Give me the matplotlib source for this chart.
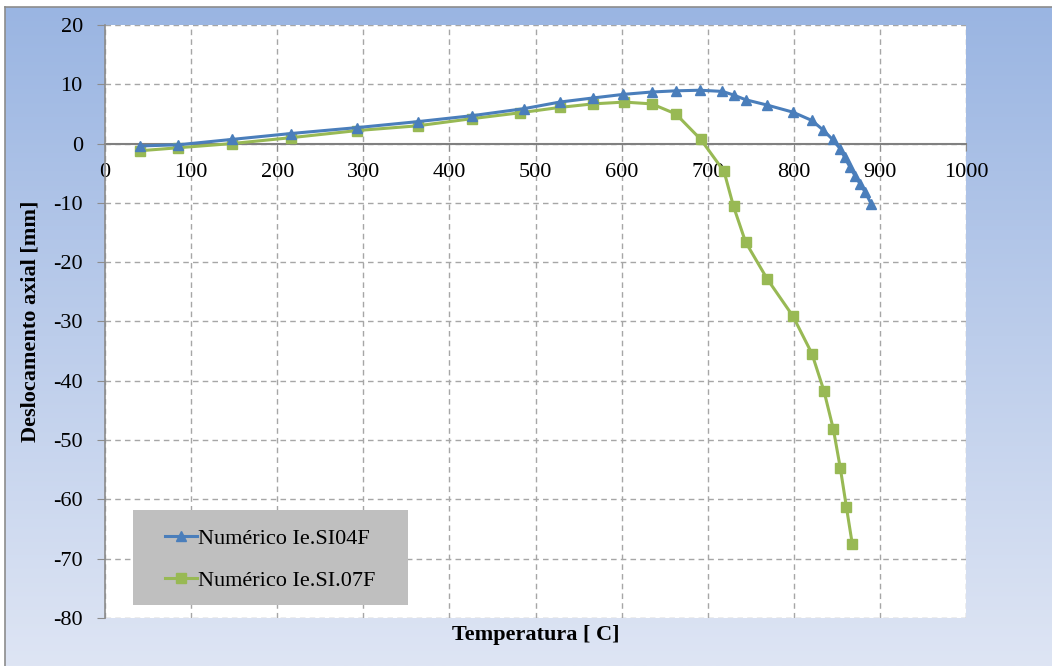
import numpy as np
import matplotlib.pyplot as plt
from matplotlib.patches import Rectangle

plt.rcParams["axes.unicode_minus"] = False

# Temperature (C) and axial displacement (mm) for each numerical model
temp_si04 = [41, 85, 147, 216, 293, 363, 426, 487, 528, 567, 602, 635, 663, 691,
             717, 730, 744, 769, 799, 821, 834, 845, 854, 859, 865, 871, 877, 883, 890]
disp_si04 = [-0.4, -0.2, 0.7, 1.7, 2.7, 3.7, 4.7, 5.9, 7.0, 7.7, 8.3, 8.7, 8.9, 9.0,
             8.8, 8.2, 7.4, 6.5, 5.3, 3.9, 2.3, 0.7, -0.9, -2.3, -3.9, -5.4, -6.8, -8.2, -10.2]

temp_si07 = [41, 85, 147, 216, 293, 363, 426, 482, 528, 567, 603, 635, 663, 692,
             719, 730, 744, 769, 799, 821, 835, 846, 854, 861, 868]
disp_si07 = [-1.2, -0.7, 0.0, 1.0, 2.2, 3.0, 4.2, 5.2, 6.1, 6.7, 7.0, 6.7, 5.0, 0.7,
             -4.7, -10.6, -16.6, -22.8, -29.1, -35.4, -41.7, -48.2, -54.7, -61.2, -67.6]

labels = ["Numérico Ie.SI04F", "Numérico Ie.SI.07F"]
x_ticks = list(range(0, 1001, 100))
y_ticks = list(range(-80, 21, 10))

blue = "#4A7EBB"
green = "#98B954"
serif = "Liberation Serif"
fs = 16

W, H = 1052, 666
fig = plt.figure(figsize=(W / 100, H / 100), dpi=100)
fig.patch.set_facecolor("white")

# Blue gradient chart background with a thin grey frame
bg = fig.add_axes([0.005, 0.0, 0.995, 0.99])
grad = np.linspace(0, 1, 256).reshape(-1, 1)
top_c = np.array([0x9A, 0xB5, 0xE2]) / 255
bot_c = np.array([0xDE, 0xE5, 0xF4]) / 255
img = top_c + (bot_c - top_c) * grad[..., None]
bg.imshow(img, aspect="auto", extent=[0, 1, 0, 1], origin="upper")
bg.set_xlim(0, 1)
bg.set_ylim(0, 1)
bg.set_xticks([])
bg.set_yticks([])
for s in bg.spines.values():
    s.set_color("#8C8C8C")
    s.set_linewidth(1.2)
bg.spines["right"].set_visible(False)
bg.spines["bottom"].set_visible(False)

# Plot area in pixels
px0, px1, py0, py1 = 105, 966, 25, 618
aw, ah = px1 - px0, py1 - py0
ax = fig.add_axes([px0 / W, 1 - py1 / H, aw / W, ah / H])
ax.set_facecolor("white")
ax.set_xlim(0, 1000)
ax.set_ylim(-80, 20)

ax.plot(temp_si04, disp_si04, color=blue, lw=2.2, marker="^", ms=7.5,
        mec=blue, mfc=blue, label=labels[0], zorder=4)
ax.plot(temp_si07, disp_si07, color=green, lw=2.2, marker="s", ms=6.5,
        mec=green, mfc=green, label=labels[1], zorder=3)

ax.set_xticks(x_ticks)
ax.set_yticks(y_ticks)
ax.grid(True, color="#A6A6A6", linestyle=(0, (4, 3)), linewidth=1.0)
ax.set_axisbelow(True)

for s in ["top", "right"]:
    ax.spines[s].set_visible(False)
ax.spines["left"].set_color("#8C8C8C")
ax.spines["left"].set_linewidth(1.2)
ax.spines["bottom"].set_position(("data", 0))
ax.spines["bottom"].set_color("#808080")
ax.spines["bottom"].set_linewidth(1.5)
ax.spines["bottom"].set_zorder(2)

ax.tick_params(axis="y", direction="out", length=6, color="#8C8C8C",
               labelsize=fs, pad=10)
ax.tick_params(axis="x", direction="out", length=5, color="#8C8C8C",
               labelsize=fs, pad=9)
for lab in ax.get_xticklabels() + ax.get_yticklabels():
    lab.set_fontfamily(serif)

ax.set_xlabel("Temperatura [ C]", fontfamily=serif, fontsize=fs,
              fontweight="bold")
ax.xaxis.set_label_coords(0.5, -0.012)
ax.set_ylabel("Deslocamento axial [mm]", fontfamily=serif, fontsize=fs,
              fontweight="bold")
ax.yaxis.set_label_coords(-64 / aw, 0.5)

# Grey legend panel
ax.add_patch(Rectangle(((133 - px0) / aw, (py1 - 605) / ah), 275 / aw, 95 / ah,
                       transform=ax.transAxes, facecolor="#BFBFBF",
                       edgecolor="none", zorder=5))
leg = ax.legend(loc="upper left", bbox_to_anchor=((165 - px0) / aw, (py1 - 528) / ah),
                prop={"family": serif, "size": fs}, frameon=False,
                borderpad=0, labelspacing=0.98, handlelength=1.45,
                handletextpad=0.05, borderaxespad=0)
leg.set_zorder(6)

fig.savefig("out.png", dpi=100)
